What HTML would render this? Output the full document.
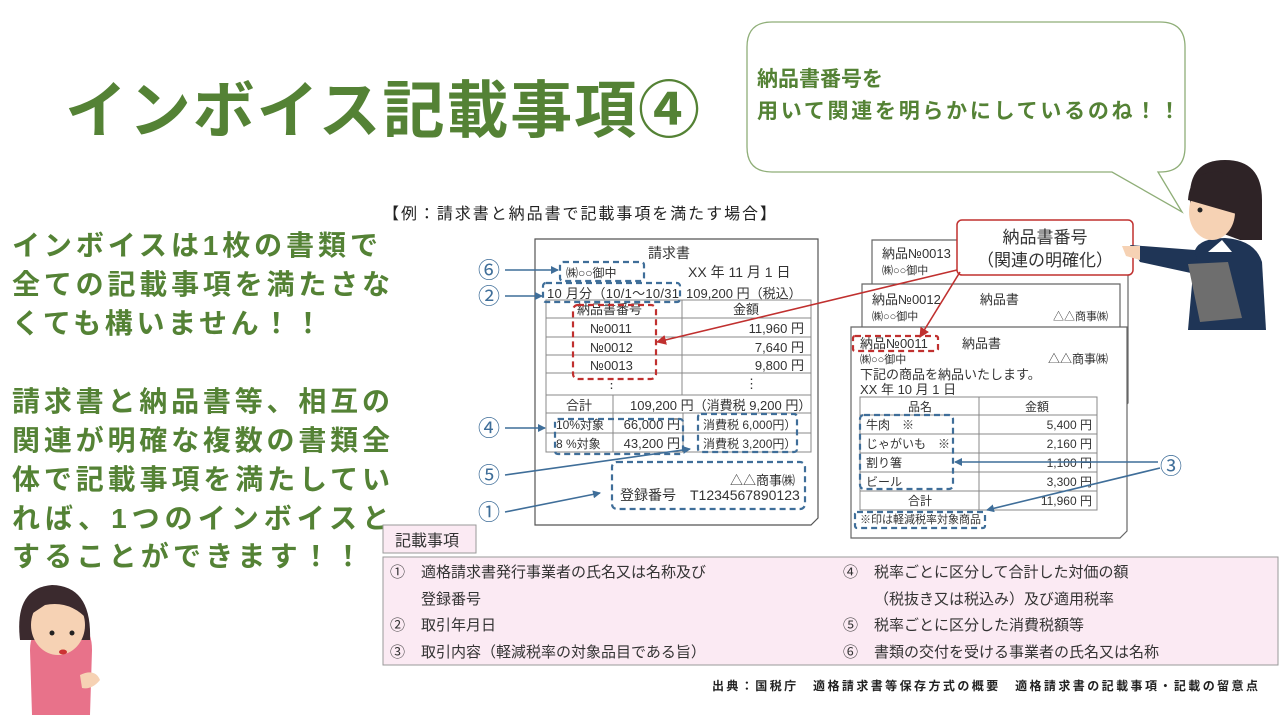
<!DOCTYPE html>
<html><head><meta charset="utf-8"><style>
html,body{margin:0;padding:0;background:#fff;}
svg{display:block;}
text{font-family:"Liberation Sans","Noto Sans CJK JP",sans-serif;}
</style></head><body>
<svg width="1280" height="720" viewBox="0 0 1280 720" xmlns="http://www.w3.org/2000/svg">
<defs>
<marker id="ab" markerWidth="8" markerHeight="8" refX="7" refY="4" orient="auto" markerUnits="userSpaceOnUse"><path d="M0,0 L8,4 L0,8 z" fill="#3f6e99"/></marker>
<marker id="ar" markerWidth="10" markerHeight="10" refX="9" refY="5" orient="auto" markerUnits="userSpaceOnUse"><path d="M0,0 L10,5 L0,10 z" fill="#c0302f"/></marker>
</defs>

<!-- Title -->
<text x="65" y="132" font-size="62" font-weight="bold" fill="#548235" textLength="635" lengthAdjust="spacing">インボイス記載事項④</text>

<!-- speech bubble -->
<path d="M772,22 H1160 Q1185,22 1185,47 V147 Q1185,172 1160,172 H1158 L1182,212 L1112,172 H772 Q747,172 747,147 V47 Q747,22 772,22 Z" fill="#fff" stroke="#8fae78" stroke-width="1.3"/>
<text x="757" y="86" font-size="21" font-weight="bold" fill="#548235">納品書番号を</text>
<text x="757" y="118" font-size="21" font-weight="bold" fill="#548235" textLength="423" lengthAdjust="spacing">用いて関連を明らかにしているのね！！</text>

<!-- left text -->
<g font-size="28" font-weight="bold" fill="#548235">
<text x="12" y="255" textLength="366" lengthAdjust="spacing">インボイスは1枚の書類で</text>
<text x="12" y="294" textLength="378" lengthAdjust="spacing">全ての記載事項を満たさな</text>
<text x="12" y="333" textLength="310" lengthAdjust="spacing">くても構いません！！</text>
<text x="12" y="411" textLength="378" lengthAdjust="spacing">請求書と納品書等、相互の</text>
<text x="12" y="450" textLength="378" lengthAdjust="spacing">関連が明確な複数の書類全</text>
<text x="12" y="489" textLength="378" lengthAdjust="spacing">体で記載事項を満たしてい</text>
<text x="12" y="528" textLength="378" lengthAdjust="spacing">れば、1つのインボイスと</text>
<text x="12" y="566" textLength="350" lengthAdjust="spacing">することができます！！</text>
</g>

<!-- example header -->
<text x="383" y="219" font-size="16" fill="#222" textLength="393" lengthAdjust="spacing">【例：請求書と納品書で記載事項を満たす場合】</text>

<!-- invoice document -->
<path d="M535,239 H818 V518 L811,525 H535 Z" fill="#fff" stroke="#555" stroke-width="1.2"/>
<g font-size="14" fill="#333">
<text x="648" y="258">請求書</text>
<text x="566" y="277" font-size="12">㈱○○御中</text>
<text x="688" y="277">XX 年 11 月 1 日</text>
<text x="547" y="298" font-size="13" textLength="132" lengthAdjust="spacing">10 月分（10/1～10/31</text>
<text x="686" y="298" font-size="13">109,200 円（税込）</text>
</g>
<g stroke="#888" stroke-width="1" fill="none">
<rect x="546" y="300" width="265" height="152"/>
<line x1="546" y1="318" x2="811" y2="318"/>
<line x1="546" y1="337" x2="811" y2="337"/>
<line x1="546" y1="355" x2="811" y2="355"/>
<line x1="546" y1="373" x2="811" y2="373"/>
<line x1="546" y1="395" x2="811" y2="395"/>
<line x1="546" y1="413" x2="811" y2="413"/>
<line x1="546" y1="433" x2="811" y2="433"/>
<line x1="682" y1="300" x2="682" y2="395"/>
<line x1="613" y1="395" x2="613" y2="452"/>
<line x1="683" y1="413" x2="683" y2="452"/>
</g>
<g font-size="13" fill="#333">
<text x="577" y="314">納品書番号</text>
<text x="733" y="314">金額</text>
<text x="590" y="333">№0011</text><text x="804" y="333" text-anchor="end">11,960 円</text>
<text x="590" y="352">№0012</text><text x="804" y="352" text-anchor="end">7,640 円</text>
<text x="590" y="370">№0013</text><text x="804" y="370" text-anchor="end">9,800 円</text>
<text x="605" y="388">⋮</text><text x="745" y="388">⋮</text>
<text x="566" y="410">合計</text>
<text x="630" y="410">109,200 円（消費税 9,200 円）</text>
<text x="556" y="429" font-size="12">10%対象</text><text x="680" y="429" text-anchor="end">66,000 円</text>
<text x="703" y="429" font-size="12">消費税 6,000円）</text>
<text x="556" y="448" font-size="12">8 %対象</text><text x="680" y="448" text-anchor="end">43,200 円</text>
<text x="703" y="448" font-size="12">消費税 3,200円）</text>
<text x="795" y="485" text-anchor="end">△△商事㈱</text>
<text x="620" y="500" font-size="14">登録番号　T1234567890123</text>
</g>
<!-- dashed boxes invoice -->
<g fill="none" stroke="#3f6e99" stroke-width="2.2" stroke-dasharray="6,4">
<rect x="560" y="262" width="84" height="19" rx="3"/>
<rect x="543" y="283" width="137" height="19" rx="3"/>
<rect x="555" y="419" width="128" height="35" rx="3"/>
<rect x="698" y="414" width="99" height="38" rx="3"/>
<rect x="612" y="462" width="193" height="47" rx="5"/>
</g>
<rect x="573" y="305" width="83" height="74" rx="5" fill="none" stroke="#c0302f" stroke-width="2.2" stroke-dasharray="6,4"/>

<!-- delivery docs -->
<path d="M872,240 H1128 V403 L1121,410 H872 Z" fill="#fff" stroke="#666" stroke-width="1.2"/>
<text x="882" y="258" font-size="13" fill="#333">納品№0013</text>
<text x="882" y="274" font-size="11" fill="#333">㈱○○御中</text>
<path d="M862,284 H1120 V430 L1113,437 H862 Z" fill="#fff" stroke="#666" stroke-width="1.2"/>
<text x="872" y="304" font-size="13" fill="#333">納品№0012　　　納品書</text>
<text x="872" y="320" font-size="11" fill="#333">㈱○○御中</text>
<text x="1108" y="320" font-size="11" fill="#333" text-anchor="end">△△商事㈱</text>
<path d="M851,327 H1127 V531 L1120,538 H851 Z" fill="#fff" stroke="#666" stroke-width="1.2"/>
<g font-size="12" fill="#333">
<text x="860" y="348" font-size="13">納品№0011</text>
<text x="962" y="348" font-size="13">納品書</text>
<text x="860" y="363" font-size="11">㈱○○御中</text>
<text x="1108" y="363" font-size="12" text-anchor="end">△△商事㈱</text>
<text x="860" y="379" font-size="13">下記の商品を納品いたします。</text>
<text x="860" y="394" font-size="13">XX 年 10 月 1 日</text>
</g>
<g stroke="#888" stroke-width="1" fill="none">
<rect x="860" y="397" width="237" height="113"/>
<line x1="860" y1="415" x2="1097" y2="415"/>
<line x1="860" y1="434" x2="1097" y2="434"/>
<line x1="860" y1="453" x2="1097" y2="453"/>
<line x1="860" y1="472" x2="1097" y2="472"/>
<line x1="860" y1="491" x2="1097" y2="491"/>
<line x1="979" y1="397" x2="979" y2="510"/>
</g>
<g font-size="12" fill="#333">
<text x="908" y="411">品名</text><text x="1025" y="411">金額</text>
<text x="866" y="429">牛肉　※</text><text x="1092" y="429" text-anchor="end">5,400 円</text>
<text x="866" y="448">じゃがいも　※</text><text x="1092" y="448" text-anchor="end">2,160 円</text>
<text x="866" y="467">割り箸</text><text x="1092" y="467" text-anchor="end">1,100 円</text>
<text x="866" y="486">ビール</text><text x="1092" y="486" text-anchor="end">3,300 円</text>
<text x="908" y="505">合計</text><text x="1092" y="505" text-anchor="end">11,960 円</text>
<text x="860" y="523" font-size="11">※印は軽減税率対象商品</text>
</g>
<g fill="none" stroke="#3f6e99" stroke-width="2.2" stroke-dasharray="6,4">
<rect x="860" y="415" width="93" height="74" rx="4"/>
<rect x="855" y="512" width="130" height="16" rx="2"/>
</g>
<rect x="853" y="336" width="85" height="15" rx="2" fill="none" stroke="#c0302f" stroke-width="2.2" stroke-dasharray="6,4"/>

<!-- callout -->
<rect x="957" y="220" width="176" height="55" rx="5" fill="#fff" stroke="#c0302f" stroke-width="1.5"/>
<text x="1045" y="243" font-size="17" fill="#333" text-anchor="middle">納品書番号</text>
<text x="1045" y="266" font-size="17" fill="#333" text-anchor="middle">（関連の明確化）</text>
<line x1="957" y1="270" x2="657" y2="342" stroke="#c0302f" stroke-width="1.6" marker-end="url(#ar)"/>
<line x1="960" y1="272" x2="920" y2="337" stroke="#c0302f" stroke-width="1.6" marker-end="url(#ar)"/>

<!-- numbered labels -->
<g font-size="22" fill="#3f6e99">
<text x="478" y="278">⑥</text>
<text x="478" y="304">②</text>
<text x="478" y="436">④</text>
<text x="478" y="483">⑤</text>
<text x="478" y="520">①</text>
<text x="1160" y="474">③</text>
</g>
<g stroke="#3f6e99" stroke-width="1.6" fill="none">
<line x1="505" y1="270" x2="558" y2="270" marker-end="url(#ab)"/>
<line x1="505" y1="296" x2="542" y2="296" marker-end="url(#ab)"/>
<line x1="505" y1="428" x2="545" y2="428" marker-end="url(#ab)"/>
<line x1="505" y1="475" x2="690" y2="449" marker-end="url(#ab)"/>
<line x1="505" y1="512" x2="600" y2="493" marker-end="url(#ab)"/>
<line x1="1158" y1="462" x2="955" y2="462" marker-end="url(#ab)"/>
<line x1="1160" y1="468" x2="987" y2="510" marker-end="url(#ab)"/>
</g>

<!-- 記載事項 table -->
<rect x="383" y="525" width="93" height="28" fill="#fbeaf3" stroke="#999" stroke-width="1"/>
<text x="395" y="546" font-size="16" fill="#333">記載事項</text>
<rect x="383" y="557" width="895" height="108" fill="#fbeaf3" stroke="#999" stroke-width="1"/>
<g font-size="15" fill="#333">
<text x="390" y="577">①</text><text x="421" y="577">適格請求書発行事業者の氏名又は名称及び</text>
<text x="421" y="604">登録番号</text>
<text x="390" y="630">②</text><text x="421" y="630">取引年月日</text>
<text x="390" y="657">③</text><text x="421" y="657">取引内容（軽減税率の対象品目である旨）</text>
<text x="843" y="577">④</text><text x="874" y="577">税率ごとに区分して合計した対価の額</text>
<text x="874" y="604">（税抜き又は税込み）及び適用税率</text>
<text x="843" y="630">⑤</text><text x="874" y="630">税率ごとに区分した消費税額等</text>
<text x="843" y="657">⑥</text><text x="874" y="657">書類の交付を受ける事業者の氏名又は名称</text>
</g>
<text x="712" y="690" font-size="12" font-weight="bold" fill="#222" textLength="546" lengthAdjust="spacing">出典：国税庁　適格請求書等保存方式の概要　適格請求書の記載事項・記載の留意点</text>

<!-- woman bottom-left -->
<g>
<path d="M30,650 Q30,625 55,622 L75,622 Q92,626 92,650 L90,715 L32,715 Z" fill="#e8728a"/>
<path d="M55,622 L65,632 L75,622 Z" fill="#fff"/>
<path d="M80,675 Q95,668 100,680 Q92,690 82,688 Z" fill="#f6d2b4"/>
<path d="M20,640 Q14,588 52,585 Q92,586 90,640 Z" fill="#3b2a2e"/>
<ellipse cx="58" cy="625" rx="27" ry="30" fill="#f6d2b4"/>
<path d="M30,615 Q30,588 55,590 Q85,592 88,620 Q70,600 45,605 Z" fill="#3b2a2e"/>
<circle cx="52" cy="633" r="2.5" fill="#222"/><circle cx="72" cy="633" r="2.5" fill="#222"/>
<ellipse cx="63" cy="652" rx="4" ry="2.5" fill="#c33"/>
</g>

<!-- woman top-right -->
<g>
<path d="M1195,250 Q1200,238 1225,238 Q1255,240 1262,262 L1266,330 L1188,330 Z" fill="#1f3556"/>
<path d="M1130,245 L1195,250 L1200,275 L1140,262 Z" fill="#1f3556"/>
<path d="M1122,246 L1140,246 L1140,260 L1126,256 Z" fill="#f6d2b4"/>
<path d="M1208,252 L1222,240 L1232,252 Z" fill="#fff"/>
<path d="M1188,264 L1228,262 L1242,318 L1200,322 Z" fill="#6e6e6e"/>
<path d="M1190,200 Q1188,160 1225,160 Q1262,160 1262,200 L1262,240 L1240,240 L1192,222 Z" fill="#2e2326"/>
<ellipse cx="1212" cy="212" rx="23" ry="28" fill="#f6d2b4"/>
<path d="M1188,200 Q1190,170 1220,172 Q1236,180 1240,200 L1240,215 Z" fill="#2e2326"/>
<circle cx="1200" cy="210" r="2.5" fill="#222"/>
</g>
</svg>
</body></html>
